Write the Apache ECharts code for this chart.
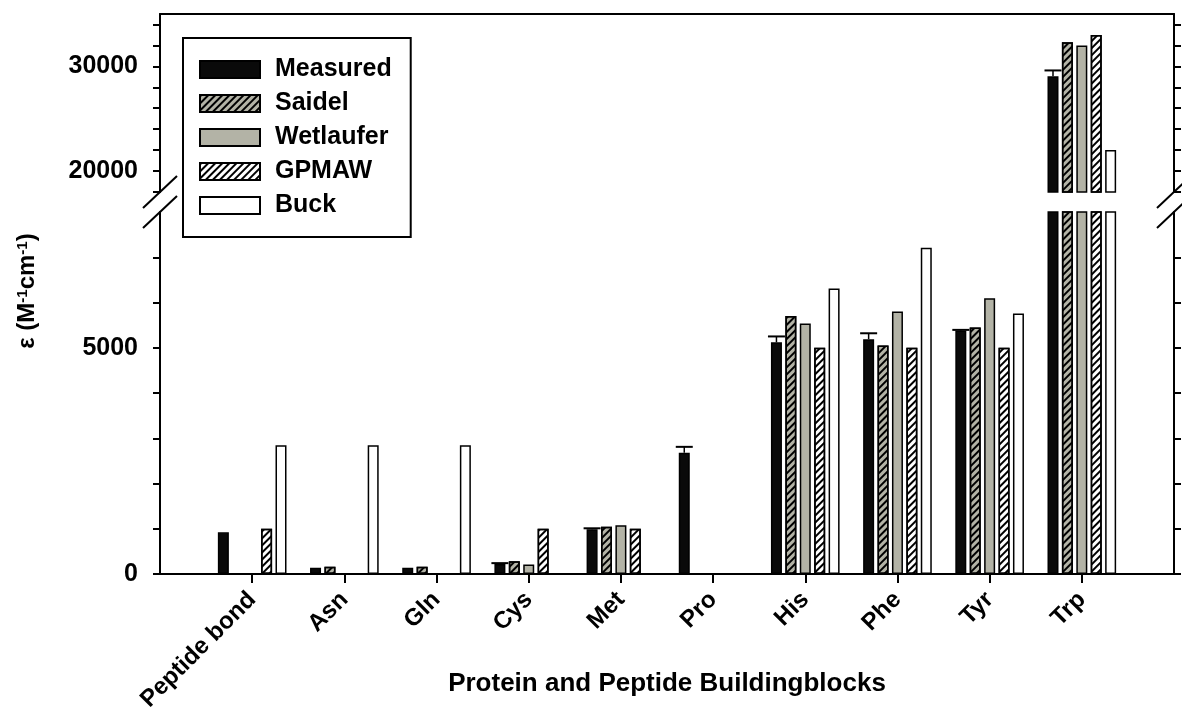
<!DOCTYPE html>
<html>
<head>
<meta charset="utf-8">
<title>Molar extinction coefficients of protein and peptide building blocks</title>
<script src="https://cdn.jsdelivr.net/npm/echarts@6/dist/echarts.min.js"></script>
<style>
  html, body { margin: 0; padding: 0; background: #fff; }
  #chart { width: 1182px; height: 707px; }
</style>
</head>
<body>
<div id="chart"></div>
<script>
// ---- data ----------------------------------------------------------------
const categories = ['Peptide bond', 'Asn', 'Gln', 'Cys', 'Met', 'Pro', 'His', 'Phe', 'Tyr', 'Trp'];
const seriesNames = ['Measured', 'Saidel', 'Wetlaufer', 'GPMAW', 'Buck'];

const measured    = [920, 140, 140, 220, 990, 2680, 5120, 5190, 5380, 29050];
const measuredErr = [0, 0, 0, 20, 20, 130, 130, 130, 15, 560];
const saidel      = ['-', 160, 160, 280, 1045, '-', 5700, 5050, 5450, 32300];
const wetlaufer   = ['-', '-', '-', 210, 1075, '-', 5535, 5800, 6095, 32000];
const gpmaw       = [1000, '-', '-', 1000, 1000, '-', 5000, 5000, 5000, 33000];
const buck        = [2846, 2846, 2846, '-', '-', '-', 6310, 7210, 5755, 22000];

// broken value axis: lower segment and upper segment
const lowerRange = [0, 8000];
const upperRange = [18000, 35000];
const lowerTicks = [0, 1000, 2000, 3000, 4000, 5000, 6000, 7000];
const lowerLabels = [0, 5000];
const upperTicks = [18000, 20000, 22000, 24000, 26000, 28000, 30000, 32000, 34000];
const upperLabels = [20000, 30000];

// ---- layout & style --------------------------------------------------------
const FONT = '"Liberation Sans", Arial, Helvetica, sans-serif';
const PLOT_LEFT = 160, PLOT_RIGHT = 1174;
const UPPER_TOP = 14, UPPER_BOTTOM = 192;
const LOWER_TOP = 212, LOWER_BOTTOM = 574;
const BAR_W = 11, BAR_GAP = '31%';
const GRAY = '#b3b3a6';

const hatch = {
  symbol: 'rect', symbolSize: 1, color: '#000',
  dashArrayX: [1, 0], dashArrayY: [1.3, 3], rotation: -Math.PI / 4
};
const styles = [
  { color: '#0a0a0a' },
  { color: GRAY, decal: hatch },
  { color: GRAY },
  { color: '#ffffff', decal: hatch },
  { color: '#ffffff' }
];
const seriesValues = [measured, saidel, wetlaufer, gpmaw, buck];

// category axis padded by one empty slot on each side
const axisData = [''].concat(categories, [' ']);
const pad = arr => ['-'].concat(arr, ['-']);
const isBlank = v => String(v).trim() === '';

const upperOnly = arr => arr.map(v => (v !== '-' && v > lowerRange[1]) ? v : '-');

const series = [];
seriesValues.forEach((vals, i) => {
  const itemStyle = Object.assign({ borderColor: '#000', borderWidth: 1.5 }, styles[i]);
  series.push({
    name: seriesNames[i], type: 'bar', xAxisIndex: 1, yAxisIndex: 2,
    barWidth: BAR_W, barGap: BAR_GAP, itemStyle, data: pad(vals)
  });
  series.push({
    name: seriesNames[i], type: 'bar', xAxisIndex: 0, yAxisIndex: 0,
    barWidth: BAR_W, barGap: BAR_GAP, itemStyle, data: pad(upperOnly(vals))
  });
});

// one-sided error bars on the measured column
function errorData(inUpper) {
  const out = [];
  measured.forEach((v, i) => {
    if (!measuredErr[i]) return;
    if ((v > lowerRange[1]) === inUpper) out.push([i + 1, v, measuredErr[i]]);
  });
  return out;
}
function renderError(params, api) {
  const idx = api.value(0), v = api.value(1), e = api.value(2);
  const slot = api.barLayout({ barWidth: BAR_W, barGap: BAR_GAP, count: seriesNames.length })[0];
  const base = api.coord([idx, v]);
  const top = api.coord([idx, v + e]);
  const x = base[0] + slot.offsetCenter;
  return {
    type: 'group',
    children: [
      { type: 'line', shape: { x1: x, y1: base[1], x2: x, y2: top[1] }, style: { stroke: '#000', lineWidth: 1.5 } },
      { type: 'line', shape: { x1: x - 8.5, y1: top[1], x2: x + 8.5, y2: top[1] }, style: { stroke: '#000', lineWidth: 2 } }
    ]
  };
}
series.push({ type: 'custom', xAxisIndex: 1, yAxisIndex: 2, z: 5, renderItem: renderError, encode: { x: 0, y: 1 }, data: errorData(false) });
series.push({ type: 'custom', xAxisIndex: 0, yAxisIndex: 0, z: 5, renderItem: renderError, encode: { x: 0, y: 1 }, data: errorData(true) });

function valueAxis(grid, position, range, ticks, labels, showLabels) {
  return {
    type: 'value', gridIndex: grid, position: position,
    min: range[0], max: range[1],
    axisLine: { show: true, onZero: false, lineStyle: { color: '#000', width: 2 } },
    axisTick: { show: true, customValues: ticks, length: 7, lineStyle: { color: '#000', width: 2 } },
    axisLabel: {
      show: showLabels, customValues: labels, margin: 22, formatter: v => String(v),
      fontSize: 25, fontWeight: 'bold', fontFamily: FONT, color: '#000'
    },
    splitLine: { show: false }
  };
}

// diagonal break marks where the value axis is cut
function breakMarks(x) {
  return [UPPER_BOTTOM, LOWER_TOP].map(y => ({
    type: 'line', silent: true, z: 100,
    shape: { x1: x - 17, y1: y + 16, x2: x + 17, y2: y - 16 },
    style: { stroke: '#000', lineWidth: 2 }
  }));
}

const option = {
  animation: false,
  backgroundColor: '#fff',
  textStyle: { fontFamily: FONT },
  grid: [
    { left: PLOT_LEFT, right: 1182 - PLOT_RIGHT, top: UPPER_TOP, height: UPPER_BOTTOM - UPPER_TOP, containLabel: false, outerBoundsMode: 'none' },
    { left: PLOT_LEFT, right: 1182 - PLOT_RIGHT, top: LOWER_TOP, height: LOWER_BOTTOM - LOWER_TOP, containLabel: false, outerBoundsMode: 'none' }
  ],
  xAxis: [
    {
      type: 'category', gridIndex: 0, position: 'top', data: axisData, boundaryGap: false,
      axisLine: { show: true, onZero: false, lineStyle: { color: '#000', width: 2 } },
      axisTick: { show: false }, axisLabel: { show: false }, splitLine: { show: false }
    },
    {
      type: 'category', gridIndex: 1, position: 'bottom', data: axisData, boundaryGap: false,
      axisLine: { show: true, onZero: false, lineStyle: { color: '#000', width: 2 } },
      axisTick: { show: true, length: 9, interval: (i, v) => !isBlank(v), lineStyle: { color: '#000', width: 2 } },
      axisLabel: {
        interval: 0, rotate: 45, margin: 22,
        fontSize: 24, fontWeight: 'bold', fontFamily: FONT, color: '#000'
      },
      splitLine: { show: false },
      name: 'Protein and Peptide Buildingblocks', nameLocation: 'middle', nameGap: 97,
      nameMoveOverlap: false,
      nameTextStyle: { fontSize: 26, fontWeight: 'bold', fontFamily: FONT, color: '#000' }
    }
  ],
  yAxis: [
    valueAxis(0, 'left', upperRange, upperTicks, upperLabels, true),
    valueAxis(0, 'right', upperRange, upperTicks, upperLabels, false),
    valueAxis(1, 'left', lowerRange, lowerTicks, lowerLabels, true),
    valueAxis(1, 'right', lowerRange, lowerTicks, lowerLabels, false)
  ],
  legend: {
    data: seriesNames, orient: 'vertical', left: 183, top: 38,
    icon: 'rect', itemWidth: 60, itemHeight: 17, itemGap: 9,
    padding: [19, 19, 19, 16], borderColor: '#000', borderWidth: 2,
    textStyle: {
      fontSize: 25, fontWeight: 'bold', fontFamily: FONT, color: '#000',
      padding: [0, 0, 0, 10]
    }
  },
  graphic: [
    {
      type: 'text', x: 27, y: 291, rotation: Math.PI / 2, z: 100,
      style: {
        text: '{a|ε (M}{s|-1}{a|cm}{s|-1}{a|)}',
        align: 'center', verticalAlign: 'middle',
        rich: {
          a: { fontSize: 24, fontWeight: 'bold', fontFamily: FONT, fill: '#000' },
          s: { fontSize: 15, fontWeight: 'bold', fontFamily: FONT, fill: '#000', verticalAlign: 'top' }
        }
      }
    }
  ].concat(breakMarks(PLOT_LEFT), breakMarks(PLOT_RIGHT)),
  series: series
};

const chart = echarts.init(document.getElementById('chart'), null, { renderer: 'canvas' });
chart.setOption(option);
</script>
</body>
</html>
